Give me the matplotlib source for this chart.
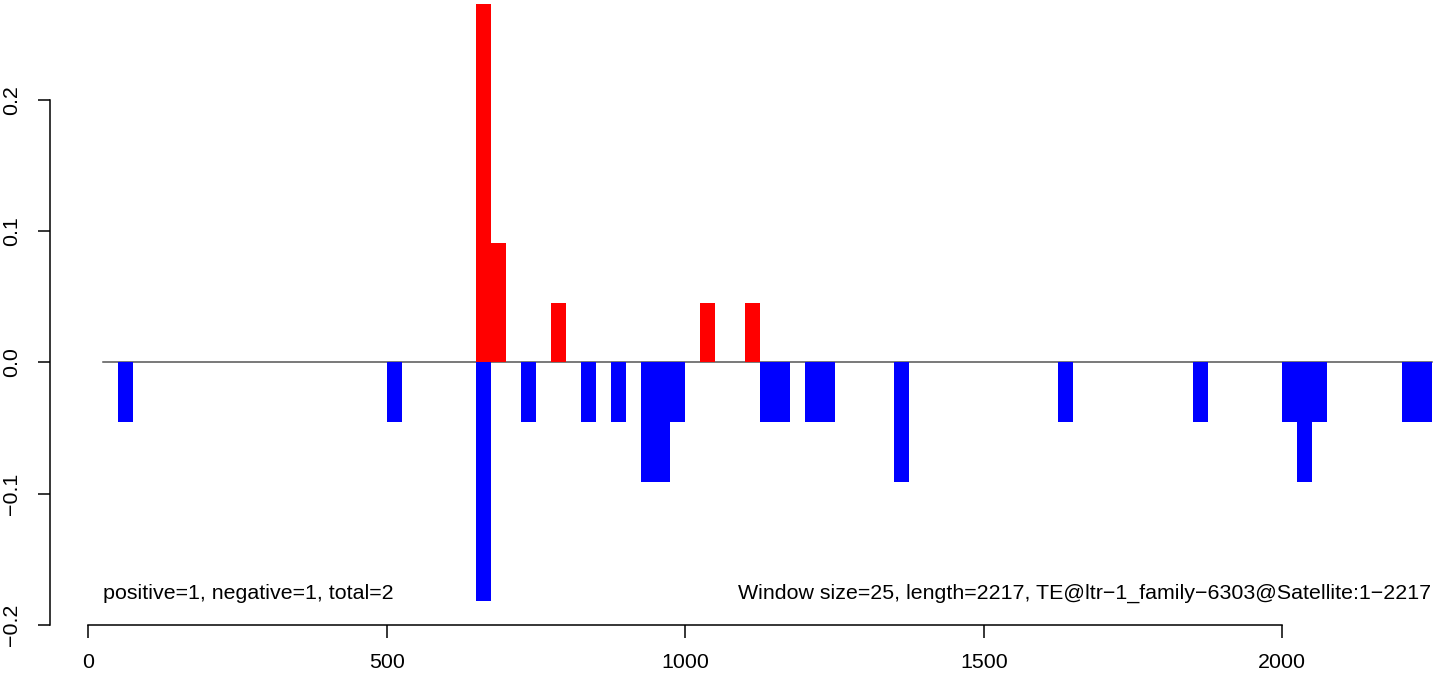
import numpy as np
import matplotlib.pyplot as plt

plt.rcParams['font.family'] = ['Liberation Sans', 'DejaVu Sans']

# window starts (bp) and scores, window size 25
pos_start = [650, 675, 775, 1025, 1100]
pos_score = [0.2727, 0.0909, 0.0455, 0.0455, 0.0455]

neg_start = [50, 500, 650, 725, 825, 875, 925, 950, 975, 1125, 1150,
             1200, 1225, 1350, 1625, 1850, 2000, 2025, 2050, 2200, 2225]
neg_score = [-0.0455, -0.0455, -0.1818, -0.0455, -0.0455, -0.0455, -0.0909,
             -0.0909, -0.0455, -0.0455, -0.0455, -0.0455, -0.0455, -0.0909,
             -0.0455, -0.0455, -0.0455, -0.0909, -0.0455, -0.0455, -0.0455]

win = 25
line_x = [25, 2250]
xticks = [0, 500, 1000, 1500, 2000]
yticks = [-0.2, -0.1, 0.0, 0.1, 0.2]
ylabels = ['\u22120.2', '\u22120.1', '0.0', '0.1', '0.2']

left_txt = 'positive=1, negative=1, total=2'
right_txt = ('Window size=25, length=2217, '
             'TE@ltr\u22121_family\u22126303@Satellite:1\u22122217')

W, H = 1444, 673
fig = plt.figure(figsize=(W / 100, H / 100), dpi=100)
ax = fig.add_axes([50.1 / W, (H - 624.9) / H, (W - 50.1) / W, 624.9 / H])

ax.plot(line_x, [0, 0], color='#555555', lw=1.1, zorder=1)
ax.bar(pos_start, pos_score, width=win, align='edge', color='#ff0000',
       linewidth=0, zorder=2)
ax.bar(neg_start, neg_score, width=win, align='edge', color='#0000ff',
       linewidth=0, zorder=2)

ax.set_xlim(-64, (W - 88.3) / 0.597)
ax.set_ylim(-0.2, 0.2 + 624.9 / 1313 - 0.4)

for s in ['top', 'right']:
    ax.spines[s].set_visible(False)
ax.spines['left'].set_bounds(-0.2, 0.2)
ax.spines['bottom'].set_bounds(0, 2000)
for s in ['left', 'bottom']:
    ax.spines[s].set_linewidth(1.1)

ax.set_xticks(xticks)
ax.set_xticklabels([str(t) for t in xticks])
ax.set_yticks(yticks)
ax.set_yticklabels(ylabels, rotation=90, va='center')
ax.tick_params(length=9, width=1.1, labelsize=15.4)
ax.tick_params(axis='x', pad=11)
ax.tick_params(axis='y', pad=12)

ax.text(25, -0.176, left_txt, ha='left', va='center', fontsize=15.4)
ax.text(2250, -0.176, right_txt, ha='right', va='center', fontsize=15.4)

fig.savefig('out.png', dpi=100)
